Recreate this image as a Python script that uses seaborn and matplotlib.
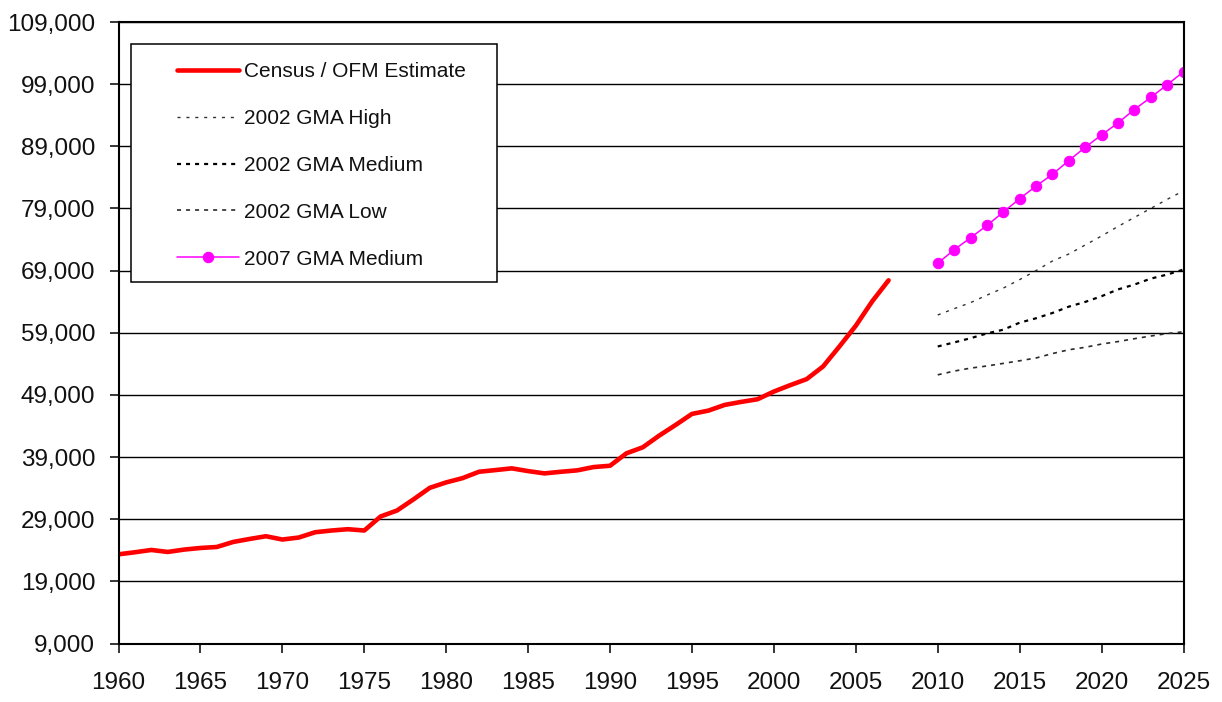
import numpy as np
import pandas as pd
import matplotlib
matplotlib.use('Agg')
import matplotlib.pyplot as plt
from matplotlib.patches import Rectangle
from matplotlib.ticker import FuncFormatter
import seaborn as sns

# Census / OFM estimate, 1960-2007
census_years = list(range(1960, 2008))
census_pop = [23350, 23680, 24050, 23730, 24110, 24370, 24530, 25340, 25820, 26260,
              25730, 26050, 26900, 27180, 27390, 27180, 29440, 30400, 32180, 34050,
              34920, 35610, 36630, 36900, 37180, 36740, 36370, 36630, 36860, 37390,
              37600, 39600, 40570, 42450, 44160, 45940, 46470, 47390, 47870, 48300,
              49540, 50570, 51540, 53570, 56790, 60130, 64050, 67440]

# projections, 2010-2025
proj_years = list(range(2010, 2026))
gma02_high = [61860, 62870, 63840, 65050, 66180, 67550, 69000, 70540,
              71670, 73120, 74570, 76100, 77550, 79000, 80460, 81830]
gma02_med = [56790, 57440, 58120, 58890, 59490, 60620, 61330, 62180,
             63200, 63960, 64880, 65970, 66750, 67710, 68360, 69170]
gma02_low = [52230, 52830, 53310, 53650, 54070, 54490, 54940, 55650,
             56260, 56660, 57180, 57580, 58040, 58470, 58870, 59160]
gma07_med = [70180, 72340, 74280, 76260, 78410, 80570, 82600, 84490,
             86700, 88840, 90830, 92760, 94920, 96860, 98900, 100990]

y_ticks = list(range(9000, 109001, 10000))
x_ticks = list(range(1960, 2026, 5))

sns.set_style('white')
plt.rcParams['font.family'] = ['Liberation Sans', 'DejaVu Sans']
plt.rcParams['lines.scale_dashes'] = False

census_df = pd.DataFrame({'year': census_years, 'pop': census_pop})
proj_df = pd.DataFrame({'year': proj_years, 'high': gma02_high, 'med': gma02_med,
                        'low': gma02_low, 'med07': gma07_med})

W, H = 1222, 702
fig = plt.figure(figsize=(W / 100, H / 100), dpi=100)
ax = fig.add_axes([118.5 / W, (H - 643.5) / H, 1065 / W, 621.5 / H])

sns.lineplot(data=census_df, x='year', y='pop', ax=ax, color='#ff0000', lw=3.3,
             label='Census / OFM Estimate')
sns.lineplot(data=proj_df, x='year', y='high', ax=ax, color='#333333', lw=1.0,
             linestyle=(0, (2.2, 4.2)), label='2002 GMA High')
sns.lineplot(data=proj_df, x='year', y='med', ax=ax, color='black', lw=1.6,
             linestyle=(0, (2.9, 3.6)), label='2002 GMA Medium')
sns.lineplot(data=proj_df, x='year', y='low', ax=ax, color='#2a2a2a', lw=1.2,
             linestyle=(0, (2.9, 3.6)), label='2002 GMA Low')
sns.lineplot(data=proj_df, x='year', y='med07', ax=ax, color='#ff00ff', lw=1.1,
             marker='o', markersize=7.5, markeredgecolor='#ff00ff',
             markerfacecolor='#ff00ff', label='2007 GMA Medium')

ax.set_xlim(1960, 2025)
ax.set_ylim(9000, 109000)
ax.set_xticks(x_ticks)
ax.set_yticks(y_ticks)
ax.yaxis.set_major_formatter(FuncFormatter(lambda v, p: f'{int(v):,}'))
ax.set_xlabel('')
ax.set_ylabel('')
ax.set_axisbelow(True)
ax.yaxis.grid(True, color='black', lw=1.0)
ax.xaxis.grid(False)
for s in ax.spines.values():
    s.set_visible(True)
    s.set_color('black')
    s.set_linewidth(1.5)
ax.tick_params(axis='both', direction='out', length=6.3, width=1.1, color='black',
               labelsize=17.5, labelcolor='#111111')
ax.tick_params(axis='x', pad=14.5, bottom=True)
ax.tick_params(axis='y', pad=10.5, left=True)

# legend box
ax.add_artist(Rectangle((131 / W, (H - 282) / H), 366 / W, 238 / H,
                        transform=fig.transFigure, facecolor='white',
                        edgecolor='black', lw=1.1, zorder=4))
handles, labels = ax.get_legend_handles_labels()
ax.legend(handles, labels, loc='upper left', bbox_to_anchor=(177 / W, (H - 62) / H),
          bbox_transform=fig.transFigure, frameon=False, fontsize=15,
          borderpad=0, borderaxespad=0, handlelength=2.98, handletextpad=0.24,
          labelspacing=1.34, labelcolor='#111111')

fig.savefig('out.png', dpi=100)
